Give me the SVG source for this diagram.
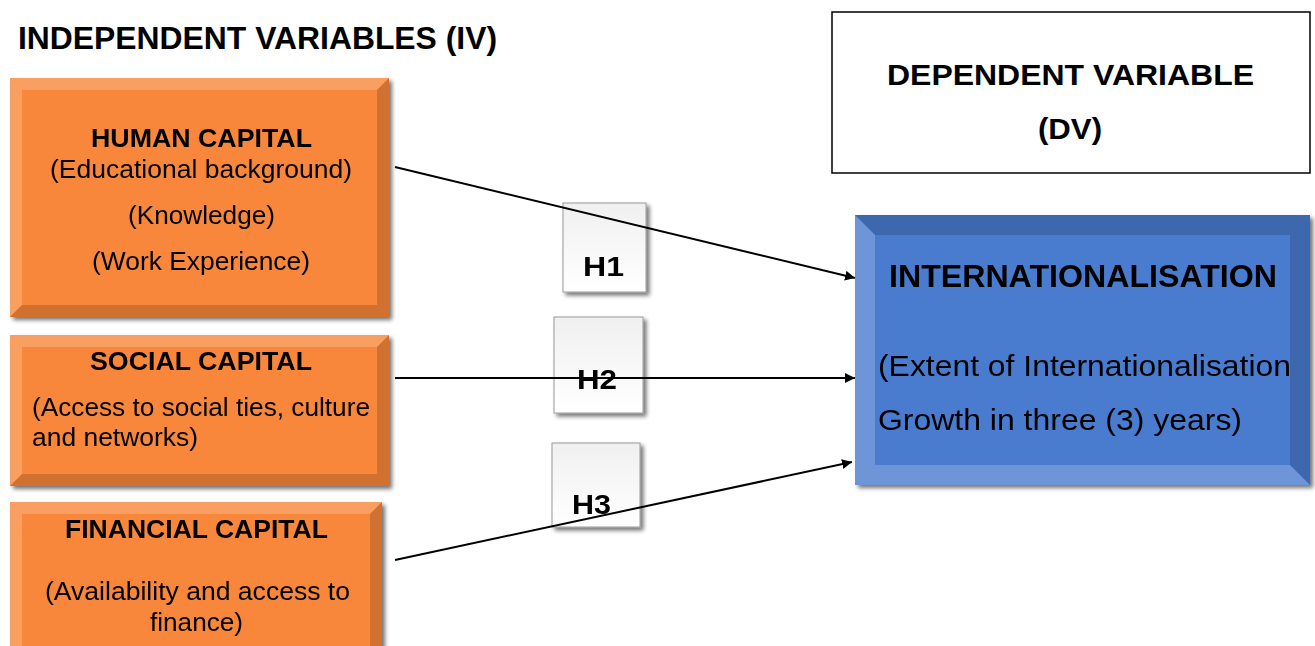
<svg xmlns="http://www.w3.org/2000/svg" width="1315" height="646" viewBox="0 0 1315 646">
<defs>
  <marker id="arrow" viewBox="0 0 10 10" refX="10" refY="5" markerWidth="10" markerHeight="10" markerUnits="userSpaceOnUse" orient="auto">
    <path d="M0,0 L10,5 L0,10 z" fill="#000"/>
  </marker>
  <filter id="shadow" x="-5%" y="-5%" width="115%" height="115%">
    <feGaussianBlur in="SourceAlpha" stdDeviation="2"/>
    <feOffset dx="3" dy="3"/>
    <feComponentTransfer><feFuncA type="linear" slope="0.55"/></feComponentTransfer>
    <feMerge><feMergeNode/><feMergeNode in="SourceGraphic"/></feMerge>
  </filter>
  <linearGradient id="hgrad" x1="0" y1="0" x2="0" y2="1">
    <stop offset="0" stop-color="#f0f0f0"/>
    <stop offset="1" stop-color="#ffffff"/>
  </linearGradient>
</defs>
<style>
  .t { font-family: "Liberation Sans", Arial, sans-serif; fill: #000; }
  .b { font-weight: bold; }
  .orange { fill: #f8873b; }
  .blue { fill: #4a7bcf; }
  .lite { fill: #ffffff; opacity: 0.2; }
  .dark { fill: #000000; opacity: 0.16; }
  .conn { stroke: #000; stroke-width: 2; fill: none; marker-end: url(#arrow); }
  .hbox { fill: url(#hgrad); stroke: #9a9a9a; stroke-width: 1; }
</style>

<!-- heading -->
<text class="t b" x="18" y="49" font-size="31" textLength="479" lengthAdjust="spacingAndGlyphs">INDEPENDENT VARIABLES (IV)</text>

<!-- dependent variable caption -->
<g id="dv-label">
  <rect x="832" y="12" width="478" height="161" fill="#fff" stroke="#000" stroke-width="1.5"/>
  <text class="t b" x="887" y="85" font-size="30" textLength="367" lengthAdjust="spacingAndGlyphs">DEPENDENT VARIABLE</text>
  <text class="t b" x="1038" y="139" font-size="30" textLength="64" lengthAdjust="spacingAndGlyphs">(DV)</text>
</g>

<!-- human capital -->
<g id="human-capital" filter="url(#shadow)">
  <rect class="orange" x="10" y="78" width="379" height="239"/>
  <polygon class="lite" points="10,78 389,78 377,90 22,90"/>
  <polygon class="lite" points="10,78 22,90 22,305 10,317"/>
  <polygon class="dark" points="389,78 389,317 377,305 377,90"/>
  <polygon class="dark" points="10,317 389,317 377,305 22,305"/>
  <text class="t b" x="91" y="147" font-size="25" textLength="221" lengthAdjust="spacingAndGlyphs">HUMAN CAPITAL</text>
  <text class="t" x="50" y="178" font-size="25" textLength="302" lengthAdjust="spacingAndGlyphs">(Educational background)</text>
  <text class="t" x="128" y="224" font-size="25" textLength="147" lengthAdjust="spacingAndGlyphs">(Knowledge)</text>
  <text class="t" x="92" y="270" font-size="25" textLength="218" lengthAdjust="spacingAndGlyphs">(Work Experience)</text>
</g>

<!-- social capital -->
<g id="social-capital" filter="url(#shadow)">
  <rect class="orange" x="10" y="335" width="379" height="151"/>
  <polygon class="lite" points="10,335 389,335 377,347 22,347"/>
  <polygon class="lite" points="10,335 22,347 22,474 10,486"/>
  <polygon class="dark" points="389,335 389,486 377,474 377,347"/>
  <polygon class="dark" points="10,486 389,486 377,474 22,474"/>
  <text class="t b" x="90" y="370" font-size="25" textLength="222" lengthAdjust="spacingAndGlyphs">SOCIAL CAPITAL</text>
  <text class="t" x="32" y="416" font-size="25" textLength="338" lengthAdjust="spacingAndGlyphs">(Access to social ties, culture</text>
  <text class="t" x="32" y="446" font-size="25" textLength="166" lengthAdjust="spacingAndGlyphs">and networks)</text>
</g>

<!-- financial capital -->
<g id="financial-capital" filter="url(#shadow)">
  <rect class="orange" x="10" y="502" width="372" height="160"/>
  <polygon class="lite" points="10,502 382,502 370,514 22,514"/>
  <polygon class="lite" points="10,502 22,514 22,662 10,662"/>
  <polygon class="dark" points="382,502 382,662 370,662 370,514"/>
  <text class="t b" x="65" y="538" font-size="25" textLength="263" lengthAdjust="spacingAndGlyphs">FINANCIAL CAPITAL</text>
  <text class="t" x="45" y="600" font-size="25" textLength="305" lengthAdjust="spacingAndGlyphs">(Availability and access to</text>
  <text class="t" x="150" y="631" font-size="25" textLength="93" lengthAdjust="spacingAndGlyphs">finance)</text>
</g>

<!-- internationalisation -->
<g id="internationalisation" filter="url(#shadow)">
  <rect class="blue" x="855" y="215" width="455" height="270"/>
  <polygon class="dark" points="855,215 1310,215 1290,235 875,235" opacity="0.1"/>
  <polygon class="lite" points="855,215 875,235 875,465 855,485" opacity="0.1"/>
  <polygon class="dark" points="1310,215 1310,485 1290,465 1290,235" opacity="0.14"/>
  <polygon class="lite" points="855,485 1310,485 1290,465 875,465" opacity="0.25"/>
  <text class="t b" x="889" y="287" font-size="31" textLength="388" lengthAdjust="spacingAndGlyphs">INTERNATIONALISATION</text>
  <text class="t" x="878" y="376" font-size="30" textLength="413" lengthAdjust="spacingAndGlyphs">(Extent of Internationalisation</text>
  <text class="t" x="878" y="430" font-size="30" textLength="364" lengthAdjust="spacingAndGlyphs">Growth in three (3) years)</text>
</g>

<!-- hypothesis tags -->
<g id="h1" filter="url(#shadow)">
  <rect class="hbox" x="563" y="203" width="83" height="89"/>
  <text class="t b" x="583" y="276" font-size="27" textLength="41" lengthAdjust="spacingAndGlyphs">H1</text>
</g>
<g id="h2" filter="url(#shadow)">
  <rect class="hbox" x="554" y="317" width="89" height="96"/>
  <text class="t b" x="577" y="389" font-size="27" textLength="40" lengthAdjust="spacingAndGlyphs">H2</text>
</g>
<g id="h3" filter="url(#shadow)">
  <rect class="hbox" x="552" y="443" width="88" height="84"/>
  <text class="t b" x="572" y="514" font-size="27" textLength="39" lengthAdjust="spacingAndGlyphs">H3</text>
</g>

<!-- connectors -->
<g id="connectors">
  <line class="conn" x1="395" y1="167" x2="855" y2="278"/>
  <line class="conn" x1="395" y1="378" x2="855" y2="378"/>
  <line class="conn" x1="395" y1="560" x2="852" y2="462"/>
</g>
</svg>
